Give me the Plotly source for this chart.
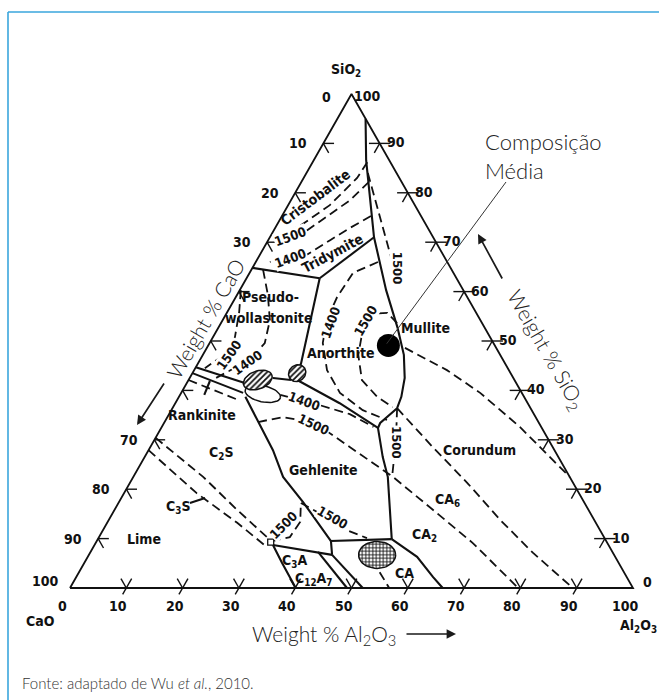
import math
import plotly.graph_objects as go

# Compositions are given as (SiO2 wt%, Al2O3 wt%); CaO is the balance to 100.

# --- solid phase-field boundaries ---
mullite_silica = [(95.0, 5.0), (86.6, 9.3), (71.0, 18.5), (60.3, 26.0), (52.6, 31.9)]
anorthite_mullite = [(52.6, 31.9), (47.2, 35.7), (42.5, 38.2), (38.7, 39.5), (36.4, 39.9)]
tridymite_anorthite = [(71.0, 18.5), (62.7, 13.0)]
tridymite_pwoll = [(62.7, 13.0), (64.8, 0.0)]
pwoll_anorthite = [(62.7, 13.0), (45.5, 18.3), (43.5, 18.6)]
blob_to_lens = [(42.1, 18.2), (42.5, 14.8)]
anorthite_gehlenite = [(42.1, 19.3), (37.4, 29.2), (32.4, 38.5)]
invariant_link = [(36.4, 39.9), (33.4, 38.4), (32.4, 38.5)]
gehlenite_ca2 = [(32.4, 38.5), (26.5, 42.3), (22.5, 45.2), (16.4, 48.6), (9.9, 52.2)]
ca_ca2 = [(9.9, 52.2), (6.3, 58.5), (2.2, 63.4), (0.0, 66.2)]
gehlenite_ca = [(9.9, 52.2), (9.5, 41.6), (6.7, 43.2)]
gehlenite_c2s = [(38.7, 11.8), (33.6, 16.6), (27.9, 22.1), (22.5, 26.6), (17.4, 32.7), (9.5, 41.6)]
c3a_top = [(6.7, 43.2), (8.7, 31.7)]
c3a_left = [(8.7, 31.7), (5.1, 35.1), (0.0, 40.1)]
c3a_c12a7 = [(7.3, 40.4), (0.0, 49.2)]
c12a7_ca = [(6.7, 43.2), (0.0, 52.0)]
rankinite_upper = [(44.7, 0.0), (41.5, 10.3)]
rankinite_lower = [(43.5, 0.0), (39.5, 11.0)]
rankinite_pointer = [(41.9, 3.9), (39.1, 4.3)]
c3s_pointer = [(17.2, 12.7), (18.2, 14.9)]

solid_lines = [mullite_silica, anorthite_mullite, tridymite_anorthite, tridymite_pwoll,
               pwoll_anorthite, blob_to_lens, anorthite_gehlenite, invariant_link,
               gehlenite_ca2, ca_ca2, gehlenite_ca, gehlenite_c2s, c3a_top, c3a_left,
               c3a_c12a7, c12a7_ca, rankinite_upper, rankinite_lower,
               rankinite_pointer, c3s_pointer]

# --- dashed boundaries and isotherms ---
c3s_upper = [(30.4, 0.0), (22.5, 12.4), (15.8, 21.8), (9.7, 30.7)]
c3s_lower = [(27.9, 0.0), (19.2, 12.9), (13.2, 23.1), (8.3, 30.8)]
iso_c2s_1500 = [(9.5, 31.1), (10.3, 33.9), (13.4, 34.2), (17.2, 32.4)]
iso_geh_1500_low = [(17.2, 32.4), (15.4, 36.2), (11.7, 43.3), (10.1, 47.7)]
ca_drop = [(3.2, 53.4), (0.0, 56.7)]
iso_1500_vertical = [(36.4, 39.9), (30.0, 42.9), (22.9, 45.8)]
corundum_ca6 = [(36.4, 39.9), (28.5, 50.2), (21.3, 59.9), (13.8, 69.5), (7.1, 78.7), (0.0, 89.3)]
ca6_ca2 = [(33.6, 16.6), (34.6, 20.5), (34.0, 23.9), (32.0, 29.3), (28.5, 35.5),
           (23.9, 43.7), (22.5, 46.1), (15.8, 56.6), (9.1, 67.0), (0.0, 79.6)]
iso_geh_1400 = [(39.1, 17.8), (37.0, 25.9), (35.2, 32.1), (32.6, 37.6)]
iso_an_1400 = [(66.0, 21.7), (63.8, 18.4), (58.9, 18.0), (54.2, 18.5), (49.6, 20.1),
               (44.1, 23.6), (39.5, 28.2), (36.0, 34.0), (34.0, 39.3)]
iso_an_1500 = [(53.6, 31.3), (55.7, 28.5), (55.5, 25.9), (52.2, 25.9), (47.2, 27.6),
               (42.1, 30.8), (38.7, 35.2), (36.6, 39.0)]
mullite_corundum = [(48.6, 35.2), (44.1, 44.9), (39.5, 53.1), (32.6, 63.6), (22.5, 77.5)]
iso_pw_1400 = [(64.4, 2.1), (59.3, 5.5), (54.2, 8.4), (49.6, 9.8), (46.2, 8.9), (43.7, 6.2), (42.1, 4.2)]
iso_pw_1500 = [(60.3, 0.2), (55.9, 2.1), (50.8, 3.9), (47.2, 3.8), (44.5, 1.7)]
iso_cr_upper = [(86.2, 9.7), (83.0, 9.5), (77.5, 7.4), (73.3, 4.2), (71.0, 0.9)]
iso_cr_lower = [(82.2, 12.0), (78.5, 10.5), (74.9, 7.8), (72.1, 5.7)]
iso_tr_1400 = [(75.3, 15.8), (72.9, 13.3), (70.4, 11.0), (67.2, 8.1), (66.0, 2.5)]
iso_mullite_1500 = [(84.0, 10.9), (72.5, 19.4), (61.9, 27.3)]
rankinite_dashed = [(42.1, 0.0), (37.9, 11.3)]

dashed_lines = [c3s_upper, c3s_lower, iso_c2s_1500, iso_geh_1500_low, ca_drop,
                iso_1500_vertical, corundum_ca6, ca6_ca2, iso_geh_1400, iso_an_1400,
                iso_an_1500, mullite_corundum, iso_pw_1400, iso_pw_1500, iso_cr_upper,
                iso_cr_lower, iso_tr_1400, iso_mullite_1500, rankinite_dashed]

# --- small regions: (SiO2, Al2O3) centre ---
hatched_small = (43.5, 18.6)
hatched_lens = (42.1, 12.3)
open_lens = (39.3, 14.6)
ca_region = (6.7, 51.2)
c3s_node = (9.3, 31.0)

# average composition marker
avg_comp = (49.1, 32.0)

# --- axis ticks ---
tick_values = [10, 20, 30, 40, 50, 60, 70, 80, 90]
cao_labels = [0, 10, 20, 30, 70, 80, 90, 100]
sio2_labels = [100, 90, 80, 70, 60, 50, 40, 30, 20, 10, 0]
al2o3_labels = [0, 10, 20, 30, 40, 50, 60, 70, 80, 90, 100]

# --- phase field names: (text, SiO2, Al2O3, angle) ---
field_names = [
    ("Cristobalite", 79.1, 4.1, -37),
    ("Tridymite", 67.8, 12.8, -28),
    ("Pseudo-", 58.9, 6.1, 0),
    ("wollastonite", 54.65, 8.0, 0),
    ("Anorthite", 47.6, 24.2, 0),
    ("Mullite", 52.6, 36.9, 0),
    ("Corundum", 27.9, 58.85, 0),
    ("CA<sub>6</sub>", 17.8, 58.1, 0),
    ("CA<sub>2</sub>", 10.7, 57.7, 0),
    ("CA", 3.0, 58.0, 0),
    ("C<sub>3</sub>A", 5.4, 37.2, 0),
    ("C<sub>12</sub>A<sub>7</sub>", 1.9, 42.3, 0),
    ("Gehlenite", 23.9, 33.0, 0),
    ("C<sub>2</sub>S", 27.3, 13.2, 0),
    ("C<sub>3</sub>S", 16.4, 11.0, 0),
    ("Lime", 9.9, 8.2, 0),
    ("Rankinite", 35.0, 5.9, 0),
]

# --- isotherm labels (°C): (text, SiO2, Al2O3, angle) ---
isotherm_labels = [
    ("1500", 71.2, 3.6, -20),
    ("1400", 66.8, 5.7, -20),
    ("1500", 64.8, 25.7, 90),
    ("1500", 47.2, 4.8, -55),
    ("1400", 45.7, 8.7, -35),
    ("1400", 37.85, 22.8, 20),
    ("1500", 33.0, 26.7, 25),
    ("1400", 53.8, 19.4, -70),
    ("1500", 54.2, 25.45, -60),
    ("1500", 29.35, 43.4, 90),
    ("1500", 12.75, 31.5, -45),
    ("1500", 14.2, 39.45, 30),
]

W, H = 659, 700
X_RANGE = [-12.433, 104.618]
Y_RANGE = [-19.634, 103.08]
R3 = math.sqrt(3) / 2
PX_X = W / (X_RANGE[1] - X_RANGE[0])
PX_Y = H / (Y_RANGE[1] - Y_RANGE[0])

DIAGRAM_FONT = "Liberation Sans Narrow, DejaVu Sans Condensed, Arial Narrow, sans-serif"
TEXT_FONT = "Lato, Open Sans, sans-serif"
INK = "#111111"


def tern(s, a):
    return a + s / 2.0, s * R3


def tern_xy(points):
    xs, ys = [], []
    for s, a in points:
        x, y = tern(s, a)
        xs.append(x)
        ys.append(y)
    return xs, ys


def page_x(px):
    return X_RANGE[0] + px / PX_X


def page_y(py):
    return Y_RANGE[1] - py / PX_Y


def ellipse(center, rx_px, ry_px, tilt_deg, n=48):
    cx, cy = tern(*center)
    t = math.radians(tilt_deg)
    xs, ys = [], []
    for i in range(n + 1):
        u = 2 * math.pi * i / n
        ex, ey = rx_px * math.cos(u), ry_px * math.sin(u)
        rx = ex * math.cos(t) - ey * math.sin(t)
        ry = ex * math.sin(t) + ey * math.cos(t)
        xs.append(cx + rx / PX_X)
        ys.append(cy + ry / PX_Y)
    return xs, ys


fig = go.Figure()

# triangle frame
frame = [(0, 0), (0, 100), (100, 0), (0, 0)]
fx, fy = tern_xy(frame)
fig.add_trace(go.Scatter(x=fx, y=fy, mode="lines", line=dict(color=INK, width=1.8),
                         hoverinfo="skip"))

# edge ticks
TL = 1.9
tick_segs = []
for v in tick_values:
    s = 100 - v  # left edge point (CaO = v)
    tick_segs.append([(s, 0), (s, TL)])
    tick_segs.append([(s, 0), (s - TL, TL)])
    s = v  # right edge point (SiO2 = v)
    tick_segs.append([(s, 100 - s - TL), (s, 100 - s + TL)])
    tick_segs.append([(s, 100 - s), (s - TL, 100 - s)])
    a = v  # bottom edge point (Al2O3 = v)
    tick_segs.append([(-1.3, a), (TL, a)])
    tick_segs.append([(0, a), (TL, a - TL)])
for seg in tick_segs:
    xs, ys = tern_xy(seg)
    fig.add_trace(go.Scatter(x=xs, y=ys, mode="lines", line=dict(color=INK, width=1.4),
                             hoverinfo="skip"))

for pts in dashed_lines:
    xs, ys = tern_xy(pts)
    fig.add_trace(go.Scatter(x=xs, y=ys, mode="lines",
                             line=dict(color=INK, width=1.8, dash="9px,5px"),
                             hoverinfo="skip"))
for pts in solid_lines:
    xs, ys = tern_xy(pts)
    fig.add_trace(go.Scatter(x=xs, y=ys, mode="lines", line=dict(color=INK, width=2.1),
                             hoverinfo="skip"))

# hatched / outlined small regions
for center, rx, ry, tilt, pat in [
    (open_lens, 18, 8, -12, None),
    (hatched_lens, 15, 9, 20, "/"),
    (hatched_small, 9, 8, 40, "/"),
    (ca_region, 18.5, 13.5, 0, "+"),
]:
    xs, ys = ellipse(center, rx, ry, tilt)
    kw = dict(fillcolor="white")
    if pat:
        kw = dict(fillpattern=dict(shape=pat, size=4 if pat == "/" else 3.5, solidity=0.45,
                                   fgcolor=INK, bgcolor="white", fillmode="replace"))
    fig.add_trace(go.Scatter(x=xs, y=ys, mode="lines", fill="toself",
                             line=dict(color=INK, width=1.5), hoverinfo="skip", **kw))

nx, ny = tern(*c3s_node)
fig.add_trace(go.Scatter(x=[nx], y=[ny], mode="markers",
                         marker=dict(symbol="square", size=6, color="white",
                                     line=dict(color=INK, width=1.3)),
                         hoverinfo="skip"))

ax_, ay_ = tern(*avg_comp)
fig.add_trace(go.Scatter(x=[ax_], y=[ay_], mode="markers",
                         marker=dict(size=23, color="black"), hoverinfo="skip"))

annotations = []
dfont = dict(family=DIAGRAM_FONT, size=14, color=INK, weight="bold")

for text, s, a, ang in field_names:
    x, y = tern(s, a)
    annotations.append(dict(x=x, y=y, text=text, showarrow=False, textangle=ang,
                            font=dfont))
for text, s, a, ang in isotherm_labels:
    x, y = tern(s, a)
    annotations.append(dict(x=x, y=y, text=text, showarrow=False, textangle=ang,
                            bgcolor="white", borderpad=0,
                            font=dict(family=DIAGRAM_FONT, size=13, color=INK,
                                      weight="bold")))

# edge tick labels
for v in cao_labels:
    x, y = tern(100 - v, 0)
    annotations.append(dict(x=x, y=y, text=str(v), showarrow=False, xshift=-25,
                            yshift=7 if v == 100 else (-3 if v == 0 else 0), font=dfont))
for v in sio2_labels:
    x, y = tern(v, 100 - v)
    annotations.append(dict(x=x, y=y, text=str(v), showarrow=False, xshift=16 if v else 14,
                            yshift=6 if v == 0 else (-2 if v == 100 else 1), font=dfont))
for v in al2o3_labels:
    x, y = tern(0, v)
    annotations.append(dict(x=x, y=y, text=str(v), showarrow=False,
                            xshift=-8, yshift=-18, font=dfont))

# corner names
annotations += [
    dict(x=page_x(346), y=page_y(70), text="SiO<sub>2</sub>", showarrow=False, font=dfont),
    dict(x=page_x(40), y=page_y(621), text="CaO", showarrow=False, font=dfont),
    dict(x=page_x(638), y=page_y(626), text="Al<sub>2</sub>O<sub>3</sub>", showarrow=False,
         font=dfont),
]

tfont = dict(family=TEXT_FONT, size=21, color="#222222", weight=300)
annotations += [
    dict(x=page_x(205), y=page_y(318), text="Weight % CaO", showarrow=False,
         textangle=-60, font=tfont),
    dict(x=page_x(546), y=page_y(350), text="Weight % SiO<sub>2</sub>", showarrow=False,
         textangle=60, font=tfont),
    dict(x=page_x(324), y=page_y(635), text="Weight % Al<sub>2</sub>O<sub>3</sub>",
         showarrow=False, font=tfont),
    dict(x=page_x(483), y=page_y(126), text="Composição<br>Média", showarrow=False,
         xanchor="left", yanchor="top", align="left",
         font=dict(family=TEXT_FONT, size=22, color="#222222", weight=300)),
    dict(x=20 / W, y=1 - 683 / H, xref="paper", yref="paper", xanchor="left",
         yanchor="middle", text="Fonte: adaptado de Wu <i>et al.</i>, 2010.",
         showarrow=False, font=dict(family=TEXT_FONT, size=15, color="#333333", weight=300)),
]

# direction arrows beside the axis titles
for (hx, hy), (tx, ty) in [((137, 425), (165, 382)), ((478, 234), (503, 280)),
                           ((456, 634), (405, 634))]:
    annotations.append(dict(x=page_x(hx), y=page_y(hy), ax=page_x(tx), ay=page_y(ty),
                            xref="x", yref="y", axref="x", ayref="y", text="",
                            showarrow=True, arrowhead=2, arrowsize=1.1, arrowwidth=1.7,
                            arrowcolor="#1a1a1a"))

shapes = [
    dict(type="line", xref="x", yref="y", x0=page_x(506), y0=page_y(182), x1=ax_ - 0.3,
         y1=ay_ + 0.3, line=dict(color="#333333", width=1)),
    dict(type="line", xref="paper", yref="paper", x0=8 / W, y0=1 - 12 / H, x1=1.0,
         y1=1 - 12 / H, line=dict(color="#3aa6dc", width=1.6)),
    dict(type="line", xref="paper", yref="paper", x0=8 / W, y0=1 - 12 / H, x1=8 / W,
         y1=0.0, line=dict(color="#3aa6dc", width=1.6)),
]

fig.update_layout(
    width=W, height=H, margin=dict(l=0, r=0, t=0, b=0),
    paper_bgcolor="white", plot_bgcolor="white", showlegend=False,
    xaxis=dict(range=X_RANGE, visible=False, fixedrange=True),
    yaxis=dict(range=Y_RANGE, visible=False, fixedrange=True),
    annotations=annotations, shapes=shapes,
)

fig.write_html("out.html")
